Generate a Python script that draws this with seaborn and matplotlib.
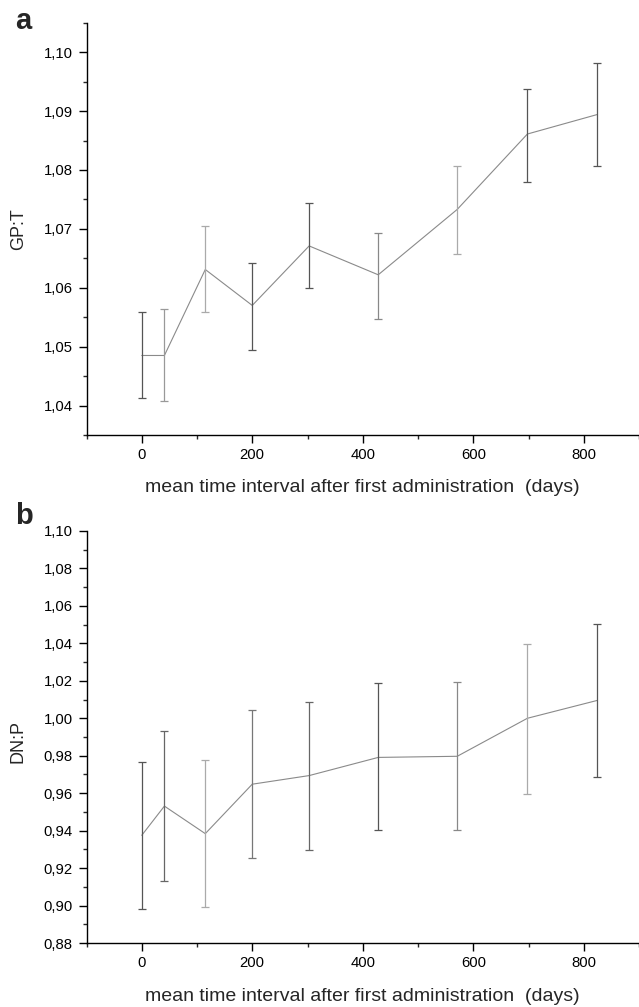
import matplotlib
matplotlib.use("Agg")
import matplotlib.pyplot as plt
from matplotlib.ticker import MultipleLocator, FuncFormatter
import seaborn as sns
import pandas as pd

# ---- data ----
days = [0, 41, 115, 200, 303, 428, 571, 698, 824]

gpt_mean = [1.0485, 1.0485, 1.0631, 1.0570, 1.0671, 1.0622, 1.0733, 1.0861, 1.0894]
gpt_upper = [1.0559, 1.0564, 1.0704, 1.0642, 1.0744, 1.0693, 1.0807, 1.0937, 1.0981]
gpt_lower = [1.0412, 1.0407, 1.0558, 1.0494, 1.0599, 1.0547, 1.0657, 1.0780, 1.0807]

dnp_mean = [0.9375, 0.9531, 0.9384, 0.9648, 0.9694, 0.9791, 0.9797, 1.0000, 1.0095]
dnp_upper = [0.9768, 0.9931, 0.9775, 1.0043, 1.0086, 1.0188, 1.0192, 1.0395, 1.0503]
dnp_lower = [0.8981, 0.9130, 0.8990, 0.9253, 0.9299, 0.9402, 0.9402, 0.9596, 0.9689]

x_label = "mean time interval after first administration  (days)"
panel_letters = ["a", "b"]
y_labels = ["GP:T", "DN:P"]

# ---- styles ----
gpt_bar_colors = ["#555555", "#999999", "#aaaaaa", "#555555", "#555555",
                  "#888888", "#aaaaaa", "#555555", "#555555"]
dnp_bar_colors = ["#555555", "#666666", "#aaaaaa", "#777777", "#666666",
                  "#555555", "#888888", "#aaaaaa", "#555555"]

sns.set_style("ticks")
plt.rcParams["font.family"] = ["Liberation Sans", "DejaVu Sans"]

W, H = 639, 1007
fig = plt.figure(figsize=(W / 100, H / 100), dpi=100)

left = 86.5 / W
ax_a = fig.add_axes([left, 1 - 435 / H, 1 - left, (435 - 22.7) / H])
ax_b = fig.add_axes([left, 1 - 943 / H, 1 - left, (943 - 531) / H])

comma = FuncFormatter(lambda v, p: f"{v:.2f}".replace(".", ","))

panels = [
    (ax_a, gpt_mean, gpt_lower, gpt_upper, gpt_bar_colors, (1.035, 1.105), 0.01, 0.005, 29.3),
    (ax_b, dnp_mean, dnp_lower, dnp_upper, dnp_bar_colors, (0.88, 1.10), 0.02, 0.01, 524.0),
]

for i, (ax, mean, lo, hi, cols, ylim, major, minor, letter_y) in enumerate(panels):
    df = pd.DataFrame({"days": days, "value": mean})
    sns.lineplot(data=df, x="days", y="value", ax=ax, color="#8a8a8a",
                 linewidth=0.8, estimator=None, sort=False)
    for xd, m, l, h, c in zip(days, mean, lo, hi, cols):
        ax.errorbar([xd], [m], yerr=[[m - l], [h - m]], fmt="none", ecolor=c,
                    elinewidth=0.9, capsize=3.1, capthick=0.9)

    ax.set_xlim(-100, 900)
    ax.set_ylim(*ylim)
    ax.xaxis.set_major_locator(MultipleLocator(200))
    ax.xaxis.set_minor_locator(MultipleLocator(100))
    ax.yaxis.set_major_locator(MultipleLocator(major))
    ax.yaxis.set_minor_locator(MultipleLocator(minor))
    ax.yaxis.set_major_formatter(comma)

    for s in ["top", "right"]:
        ax.spines[s].set_visible(False)
    for s in ["left", "bottom"]:
        ax.spines[s].set_linewidth(1.0)
        ax.spines[s].set_color("black")

    ax.tick_params(axis="both", which="major", length=5.5, width=1.0,
                   labelsize=10.7, colors="black", pad=4)
    ax.tick_params(axis="both", which="minor", length=3.2, width=1.0)
    ax.tick_params(axis="y", which="major", length=6.0)

    ax.set_xlabel(x_label, fontsize=14)
    ax.xaxis.label.set_va("baseline")
    ax.set_ylabel(y_labels[i], fontsize=13)
    ax.yaxis.label.set_va("center")

    fig.text(15 / W, 1 - letter_y / H, panel_letters[i], fontsize=21,
             fontweight="bold", ha="left", va="baseline")

ax_a.xaxis.set_label_coords(0.5, (435 - 491.7) / (435 - 22.7))
ax_b.xaxis.set_label_coords(0.5, (943 - 1000.7) / (943 - 531))
ax_a.yaxis.set_label_coords((18.7 - 86.5) / (W - 86.5), 0.5)
ax_b.yaxis.set_label_coords((17.7 - 86.5) / (W - 86.5), 0.49)

fig.savefig("out.png", dpi=100, facecolor="white")
